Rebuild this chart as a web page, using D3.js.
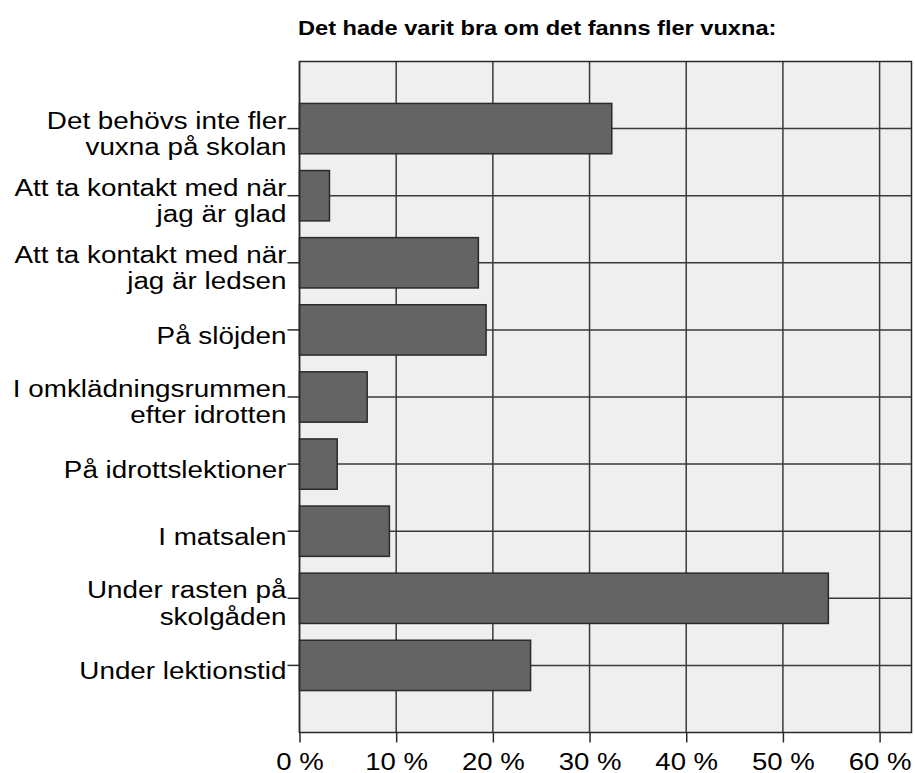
<!DOCTYPE html>
<html>
<head>
<meta charset="utf-8">
<script src="https://cdn.jsdelivr.net/npm/d3@7"></script>
<style>
  body { margin: 0; background: #fff; }
  svg { font-family: "Liberation Sans", Arial, sans-serif; }
</style>
</head>
<body>
<svg width="915" height="773"></svg>
<script>
// category labels (split in lines like the original)
var categories = [
  ["Det behövs inte fler", "vuxna på skolan"],
  ["Att ta kontakt med när", "jag är glad"],
  ["Att ta kontakt med när", "jag är ledsen"],
  ["På slöjden"],
  ["I omklädningsrummen", "efter idrotten"],
  ["På idrottslektioner"],
  ["I matsalen"],
  ["Under rasten på", "skolgåden"],
  ["Under lektionstid"]
];
// percent values
var values = [32.3, 3.1, 18.5, 19.3, 7.0, 3.9, 9.3, 54.7, 23.9];
var xTicks = [0, 10, 20, 30, 40, 50, 60];
var title = "Det hade varit bra om det fanns fler vuxna:";

var svg = d3.select("svg");
var margins = { top: 61.5, left: 299.5, right: 3.5, bottom: 40.5 };
var chartWidth = 915 - margins.left - margins.right;
var chartHeight = 773 - margins.top - margins.bottom;

// the original text is a bit stretched horizontally
var stretch = 1.21;

var xScale = d3.scaleLinear().domain([0, 63.3]).range([0, chartWidth]);
var yScale = d3.scaleBand()
  .domain(d3.range(categories.length))
  .range([0, chartHeight])
  .paddingInner(0.25)
  .paddingOuter(0.625);

var g = svg.append("g")
  .attr("transform", `translate(${margins.left}, ${margins.top})`);

// plot background
g.append("rect")
  .attr("width", chartWidth)
  .attr("height", chartHeight)
  .attr("fill", "#efefef");

// vertical grid
g.selectAll(".vgrid").data(xTicks).enter().append("line")
  .attr("x1", function (d) { return xScale(d); })
  .attr("x2", function (d) { return xScale(d); })
  .attr("y1", 0).attr("y2", chartHeight)
  .attr("stroke", "#3a3a3a").attr("stroke-width", 1.5);

// horizontal grid through bar centers
g.selectAll(".hgrid").data(values).enter().append("line")
  .attr("x1", 0).attr("x2", chartWidth)
  .attr("y1", function (d, i) { return yScale(i) + yScale.bandwidth() / 2; })
  .attr("y2", function (d, i) { return yScale(i) + yScale.bandwidth() / 2; })
  .attr("stroke", "#3a3a3a").attr("stroke-width", 1.5);

// bars
g.selectAll(".bar").data(values).enter().append("rect")
  .attr("x", 0)
  .attr("y", function (d, i) { return yScale(i); })
  .attr("width", function (d) { return xScale(d); })
  .attr("height", yScale.bandwidth())
  .attr("fill", "#646464")
  .attr("stroke", "#2a2a2a")
  .attr("stroke-width", 1.5);

// frame
g.append("rect")
  .attr("width", chartWidth)
  .attr("height", chartHeight)
  .attr("fill", "none")
  .attr("stroke", "#2a2a2a")
  .attr("stroke-width", 1.5);

// x axis
var xAxis = g.append("g")
  .attr("transform", `translate(0, ${chartHeight})`)
  .call(d3.axisBottom(xScale).tickValues(xTicks).tickSize(10).tickSizeOuter(0)
    .tickFormat(function (d) { return d + " %"; }));
xAxis.select(".domain").remove();
xAxis.selectAll("line").attr("stroke", "#2a2a2a").attr("stroke-width", 1.5);
xAxis.selectAll("text")
  .attr("y", 0)
  .attr("dy", 0)
  .attr("transform", `translate(0, 37) scale(${stretch * 0.99}, 1)`)
  .attr("font-size", 23)
  .attr("font-family", "Liberation Sans, Arial, sans-serif")
  .attr("fill", "#000");

// y axis ticks
g.selectAll(".ytick").data(values).enter().append("line")
  .attr("x1", -12).attr("x2", 0)
  .attr("y1", function (d, i) { return yScale(i) + yScale.bandwidth() / 2; })
  .attr("y2", function (d, i) { return yScale(i) + yScale.bandwidth() / 2; })
  .attr("stroke", "#2a2a2a").attr("stroke-width", 1.5);

// y labels
var labels = g.selectAll(".ylabel").data(categories).enter().append("text")
  .attr("text-anchor", "end")
  .attr("font-size", 23)
  .attr("fill", "#000")
  .attr("transform", function (d, i) {
    var cy = yScale(i) + yScale.bandwidth() / 2;
    var base = d.length > 1 ? cy : cy + 14;
    return `translate(-13, ${base}) scale(${stretch}, 1)`;
  });
labels.selectAll("tspan").data(function (d) { return d; }).enter().append("tspan")
  .attr("x", 0)
  .attr("dy", function (d, i) { return i === 0 ? 0 : 26.5; })
  .text(function (d) { return d; });

// title
svg.append("text")
  .attr("transform", "translate(298, 35) scale(1.18, 1)")
  .attr("font-size", 20)
  .attr("font-weight", "bold")
  .attr("fill", "#000")
  .text(title);
</script>
</body>
</html>
